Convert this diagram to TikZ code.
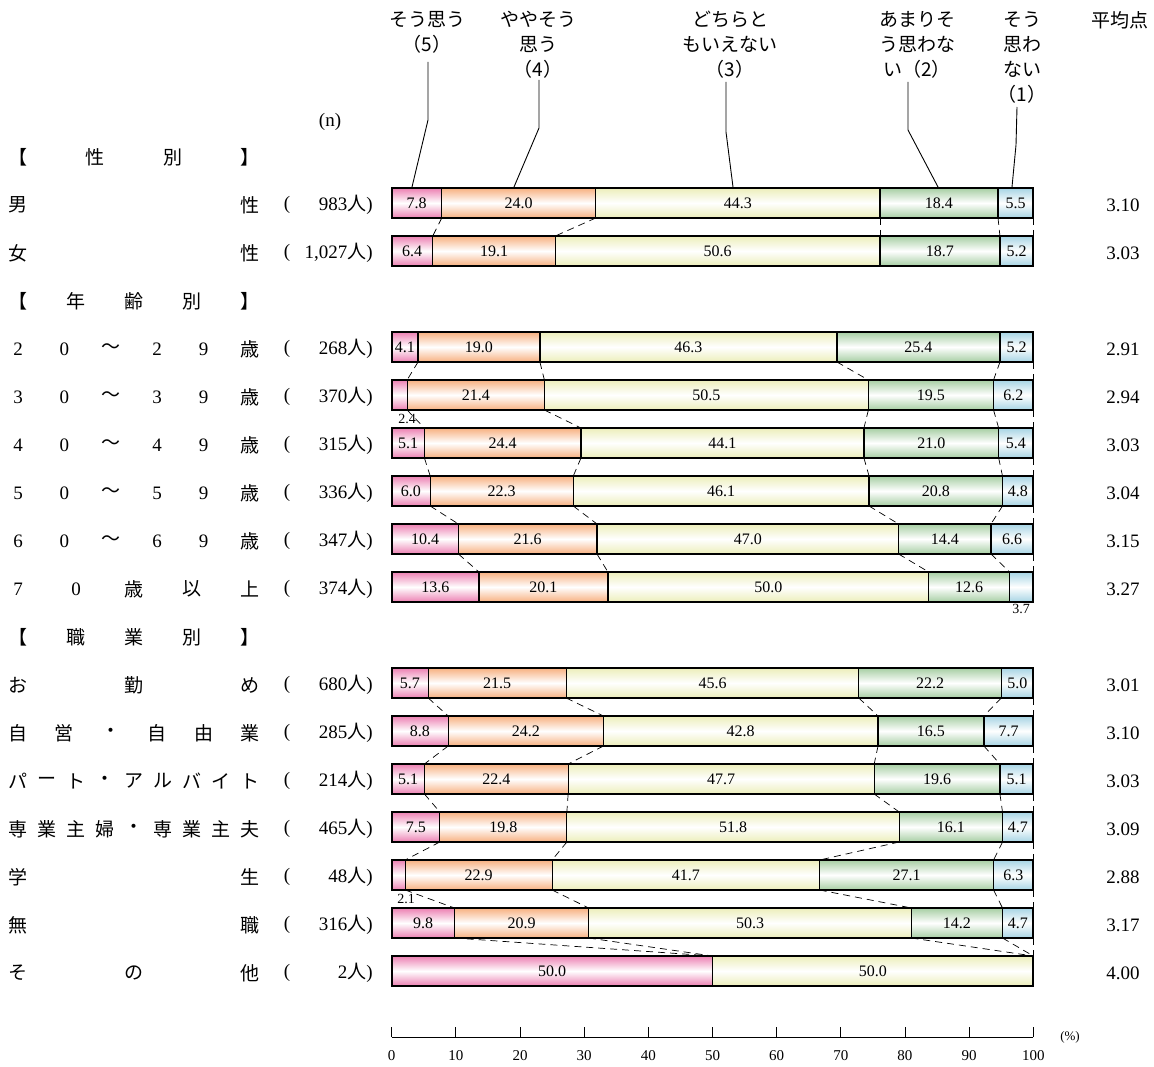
\documentclass[tikz,border=0pt]{standalone}
\usepackage{fontspec}
\setmainfont{Liberation Serif}
\newfontfamily\cjk{Noto Sans CJK JP}
\definecolor{cpink}{RGB}{236,128,178}
\definecolor{corange}{RGB}{247,176,128}
\definecolor{cyellow}{RGB}{236,238,186}
\definecolor{cgreen}{RGB}{166,206,163}
\definecolor{cblue}{RGB}{166,212,228}
\newcommand\dg[1]{{\rmfamily #1}}
\newcommand\segm[6]{%
  \pgfmathsetmacro\xa{391.7+6.416*#1}%
  \pgfmathsetmacro\xb{391.7+6.416*#2}%
  \pgfmathtruncatemacro\nz{((#2)-(#1))>0.01}%
  \ifnum\nz=1
    \shade[top color=#4,bottom color=#4,middle color=white] (\xa,#3-15) rectangle (\xb,#3+15);
    \draw[segline] (\xa,#3-15) rectangle (\xb,#3+15);
  \fi
  \pgfmathtruncatemacro\showv{(#5)>3.9}%
  \ifnum\showv=1 \node[val] (#6) at ({(\xa+\xb)/2},#3) {#5};\fi
}
\newcommand\bcoord[4]{%
  \coordinate (#1-t#2) at ({391.7+6.416*#3},{#4-15});
  \coordinate (#1-b#2) at ({391.7+6.416*#3},{#4+15});
}
\newcommand\datarow[9]{%
  \pgfmathsetmacro\bB{#5}%
  \pgfmathsetmacro\bC{#5+#6}%
  \pgfmathsetmacro\bD{#5+#6+#7}%
  \pgfmathsetmacro\bE{#5+#6+#7+#8}%
  \segm{0}{\bB}{#2}{cpink}{#5}{#1-s1}%
  \segm{\bB}{\bC}{#2}{corange}{#6}{#1-s2}%
  \segm{\bC}{\bD}{#2}{cyellow}{#7}{#1-s3}%
  \segm{\bD}{\bE}{#2}{cgreen}{#8}{#1-s4}%
  \segm{\bE}{100}{#2}{cblue}{#9}{#1-s5}%
  \draw[frame] (391.7,#2-15) rectangle (1033.3,#2+15);
  \bcoord{#1}{1}{\bB}{#2}\bcoord{#1}{2}{\bC}{#2}\bcoord{#1}{3}{\bD}{#2}\bcoord{#1}{4}{\bE}{#2}\bcoord{#1}{5}{100}{#2}%
  \node[cnt] (#1-p) at (287,#2+2) {(};
  \node[cnt,anchor=east] (#1-n) at (373,#2+2) {#3{\cjk 人})};
  \node[avg] (#1-a) at (1123,#2+2) {#4};
}
\newcommand\conn[2]{\foreach \k in {1,...,5}{\draw[conn] (#1-b\k) -- (#2-t\k);}}
\newcommand\dist[4]{%
  \foreach \ch [count=\i] in {#4}{%
    \node[lab] (#1-\i) at ({18+(\i-1)*232/(#3-1)},#2) {\ch};
  }%
}
\begin{document}
\begin{tikzpicture}[x=1pt,y=-1pt,
  lab/.style={inner sep=0pt,font=\cjk\fontsize{19}{22}\selectfont},
  cnt/.style={inner sep=0pt,font=\fontsize{19}{22}\selectfont},
  val/.style={inner sep=0pt,font=\fontsize{16}{18}\selectfont},
  sval/.style={inner sep=0pt,font=\fontsize{14}{16}\selectfont},
  avg/.style={inner sep=0pt,font=\fontsize{19}{22}\selectfont},
  axl/.style={inner sep=0pt,font=\fontsize{15}{17}\selectfont},
  hdr/.style={inner sep=0pt,align=center,anchor=north,font=\cjk\fontsize{19}{25}\selectfont},
  segline/.style={draw=black,line width=1.2pt},
  frame/.style={draw=black,line width=1.8pt},
  conn/.style={dash pattern=on 7pt off 5pt,line width=0.7pt},
  lead/.style={line width=0.9pt}]
\useasboundingbox (0,0) rectangle (1154,1067);

% column headers
\node[hdr] (h5) at (427,11) {そう思う\\（5）};
\node[hdr] (h4) at (538,11) {ややそう\\思う\\（4）};
\node[hdr] (h3) at (730,11) {どちらと\\もいえない\\（3）};
\node[hdr] (h2) at (917,11) {あまりそ\\う思わな\\い（2）};
\node[hdr] (h1) at (1022,11) {そう\\思わ\\ない\\（1）};
\node[hdr] (hav) at (1120,11) {平均点};
\node[cnt] (nh) at (330,122) {(n)};

% leader lines
\coordinate (k5) at (428,62);  \coordinate (m5) at (428,120); \coordinate (e5) at (412,187);
\coordinate (k4) at (539,80);  \coordinate (m4) at (539,128); \coordinate (e4) at (514,187);
\coordinate (k3) at (726,82);  \coordinate (m3) at (726,132); \coordinate (e3) at (733,187);
\coordinate (k2) at (908,82);  \coordinate (m2) at (908,130); \coordinate (e2) at (938,187);
\coordinate (k1) at (1017,107); \coordinate (m1) at (1016,145); \coordinate (e1) at (1012,187);
\foreach \j in {1,...,5}{\draw[lead] (k\j) -- (m\j) -- (e\j);}

% left labels
\dist{g1}{157}{4}{【,性,別,】}
\dist{r1}{205}{2}{男,性}
\dist{r2}{253}{2}{女,性}
\dist{g2}{301}{5}{【,年,齢,別,】}
\dist{r3}{349}{6}{\dg2,\dg0,～,\dg2,\dg9,歳}
\dist{r4}{397}{6}{\dg3,\dg0,～,\dg3,\dg9,歳}
\dist{r5}{445}{6}{\dg4,\dg0,～,\dg4,\dg9,歳}
\dist{r6}{493}{6}{\dg5,\dg0,～,\dg5,\dg9,歳}
\dist{r7}{541}{6}{\dg6,\dg0,～,\dg6,\dg9,歳}
\dist{r8}{589}{5}{\dg7,\dg0,歳,以,上}
\dist{g3}{637}{5}{【,職,業,別,】}
\dist{r9}{685}{3}{お,勤,め}
\dist{r10}{733}{6}{自,営,・,自,由,業}
\dist{r11}{781}{9}{パ,ー,ト,・,ア,ル,バ,イ,ト}
\dist{r12}{829}{9}{専,業,主,婦,・,専,業,主,夫}
\dist{r13}{877}{2}{学,生}
\dist{r14}{925}{2}{無,職}
\dist{r15}{973}{3}{そ,の,他}

% bars
\datarow{m}{203}{983}{3.10}{7.8}{24.0}{44.3}{18.4}{5.5}
\datarow{f}{251}{1,027}{3.03}{6.4}{19.1}{50.6}{18.7}{5.2}
\datarow{a2}{347}{268}{2.91}{4.1}{19.0}{46.3}{25.4}{5.2}
\datarow{a3}{395}{370}{2.94}{2.4}{21.4}{50.5}{19.5}{6.2}
\datarow{a4}{443}{315}{3.03}{5.1}{24.4}{44.1}{21.0}{5.4}
\datarow{a5}{491}{336}{3.04}{6.0}{22.3}{46.1}{20.8}{4.8}
\datarow{a6}{539}{347}{3.15}{10.4}{21.6}{47.0}{14.4}{6.6}
\datarow{a7}{587}{374}{3.27}{13.6}{20.1}{50.0}{12.6}{3.7}
\datarow{j1}{683}{680}{3.01}{5.7}{21.5}{45.6}{22.2}{5.0}
\datarow{j2}{731}{285}{3.10}{8.8}{24.2}{42.8}{16.5}{7.7}
\datarow{j3}{779}{214}{3.03}{5.1}{22.4}{47.7}{19.6}{5.1}
\datarow{j4}{827}{465}{3.09}{7.5}{19.8}{51.8}{16.1}{4.7}
\datarow{j5}{875}{48}{2.88}{2.1}{22.9}{41.7}{27.1}{6.3}
\datarow{j6}{923}{316}{3.17}{9.8}{20.9}{50.3}{14.2}{4.7}
\datarow{j7}{971}{2}{4.00}{50.0}{0}{50.0}{0}{0}

% small outside values
\node[sval] (x24) at (407,419) {2.4};
\node[sval] (x37) at (1021,609) {3.7};
\node[sval] (x21) at (406,899) {2.1};

% dashed connectors
\conn{m}{f}
\conn{a2}{a3}\conn{a3}{a4}\conn{a4}{a5}\conn{a5}{a6}\conn{a6}{a7}
\conn{j1}{j2}\conn{j2}{j3}\conn{j3}{j4}\conn{j4}{j5}\conn{j5}{j6}\conn{j6}{j7}

% axis
\draw[line width=0.8pt] (391.7,1037) -- (1033.3,1037);
\foreach \t in {0,...,10}{
  \pgfmathtruncatemacro\tl{10*\t}
  \draw[line width=0.8pt] ({391.7+64.16*\t},1037) -- ({391.7+64.16*\t},1027);
  \node[axl] (ax\t) at ({391.7+64.16*\t},1056) {\tl};
}
\node[inner sep=0pt,font=\fontsize{13}{15}\selectfont] (pct) at (1070,1037) {(\%)};
\end{tikzpicture}
\end{document}
